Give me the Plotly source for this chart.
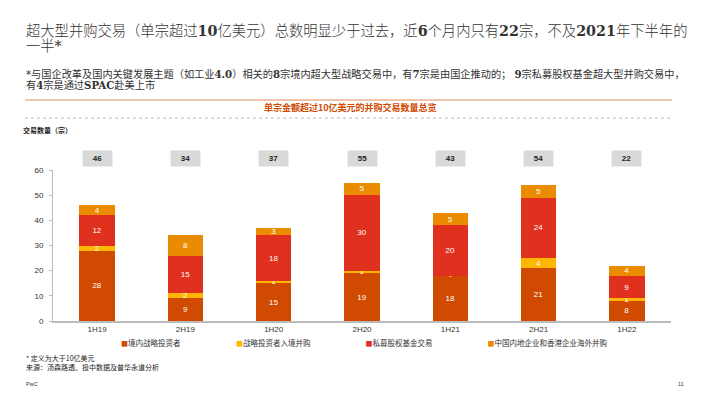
import plotly.graph_objects as go

categories = ["1H19", "2H19", "1H20", "2H20", "1H21", "2H21", "1H22"]
domestic_strategic = [28, 9, 15, 19, 18, 21, 8]
inbound_strategic = [2, 2, 1, 1, 0, 4, 1]
private_equity = [12, 15, 18, 30, 20, 24, 9]
outbound = [4, 8, 3, 5, 5, 5, 4]
totals = [46, 34, 37, 55, 43, 54, 22]
series_names = ["境内战略投资者", "战略投资者入境并购", "私募股权基金交易", "中国内地企业和香港企业海外并购"]
series_colors = ["#D04A02", "#FFB600", "#E0301E", "#EB8C00"]
y_ticks = [0, 10, 20, 30, 40, 50, 60]

# The page body has an 8px margin, so the figure is laid out in screen pixels minus 8.
OFF = 8
W, H = 710 - OFF, 399 - OFF
L, R, T, B = 53, 671, 170, 321  # plot area in screen pixels


def px(x):
    return (x - L) / (R - L)


def py(y):
    return (B - y) / (B - T)


CJK = "Noto Sans CJK SC, Noto Sans, sans-serif"
NUM = "Liberation Sans, Arial, sans-serif"
fig = go.Figure()

series = [domestic_strategic, inbound_strategic, private_equity, outbound]
for name, vals, col in zip(series_names, series, series_colors):
    fig.add_trace(go.Bar(
        x=categories, y=vals, name=name, marker=dict(color=col, line=dict(width=0)),
        text=[str(v) if v > 0 else "" for v in vals],
        textposition="inside", insidetextanchor="middle", constraintext="none", textangle=0,
        textfont=dict(color="#FFFFFF", size=8, family=NUM),
        width=0.4, showlegend=False, hoverinfo="skip",
    ))
    fig.add_trace(go.Scatter(
        x=[None], y=[None], mode="lines",
        name='<span style="color:%s;font-size:7px">■</span>%s' % (col, name),
        line=dict(color="rgba(0,0,0,0)", width=0), showlegend=True, hoverinfo="skip",
    ))

# "-" marks for zero segments
for i, v in enumerate(inbound_strategic):
    if v == 0:
        fig.add_annotation(x=categories[i], y=domestic_strategic[i], text="-", showarrow=False,
                           font=dict(color="#FFFFFF", size=8, family=NUM), xref="x", yref="y")

# total boxes
for c, t in zip(categories, totals):
    fig.add_annotation(x=c, xref="x", y=py(150), yref="paper", text="<b>%d</b>" % t,
                       showarrow=False, bgcolor="#D9D9D9", width=27, height=13,
                       font=dict(size=8, color="#222222", family=NUM))

title_font = "DejaVu Serif, Noto Sans CJK SC, serif"
fig.add_annotation(xref="paper", yref="paper", x=px(24), y=py(31), xanchor="left", yanchor="middle",
                   text="超大型并购交易（单宗超过<b>10</b>亿美元）总数明显少于过去，近<b>6</b>个月内只有<b>22</b>宗，不及<b>2021</b>年下半年的",
                   showarrow=False, font=dict(size=14.3, color="#333333", family=title_font, weight=300))
fig.add_annotation(xref="paper", yref="paper", x=px(24), y=py(46), xanchor="left", yanchor="middle",
                   text="一半*", showarrow=False, font=dict(size=14.3, color="#333333", family=title_font, weight=300))
fig.add_annotation(xref="paper", yref="paper", x=px(24), y=py(74), xanchor="left", yanchor="middle",
                   text="*与国企改革及国内关键发展主题（如工业<b>4.0</b>）相关的<b>8</b>宗境内超大型战略交易中，有<b>7</b>宗是由国企推动的； <b>9</b>宗私募股权基金超大型并购交易中，",
                   showarrow=False, font=dict(size=10.2, color="#333333", family=title_font))
fig.add_annotation(xref="paper", yref="paper", x=px(24), y=py(85), xanchor="left", yanchor="middle",
                   text="有<b>4</b>宗是通过<b>SPAC</b>赴美上市",
                   showarrow=False, font=dict(size=10.2, color="#333333", family=title_font))

# header lines
fig.add_shape(type="line", xref="paper", yref="paper", x0=px(25), x1=px(672), y0=py(100), y1=py(100),
              line=dict(color="#DC8A5A", width=1))
fig.add_shape(type="line", xref="paper", yref="paper", x0=px(25), x1=px(672), y0=py(118), y1=py(118),
              line=dict(color="#BBBBBB", width=1, dash="dot"))
fig.add_annotation(xref="paper", yref="paper", x=px(350), y=py(108), xanchor="center", yanchor="middle",
                   text="<b>单宗金额超过10亿美元的并购交易数量总览</b>", showarrow=False,
                   font=dict(size=9, color="#D04A02", family=CJK))
fig.add_annotation(xref="paper", yref="paper", x=px(21), y=py(130), xanchor="left", yanchor="middle",
                   text="<b>交易数量（宗）</b>", showarrow=False, font=dict(size=7, color="#222222", family=CJK))

# footnotes
fig.add_annotation(xref="paper", yref="paper", x=px(24), y=py(358), xanchor="left", yanchor="middle",
                   text="* 定义为大于10亿美元", showarrow=False, font=dict(size=7, color="#222222", family=CJK))
fig.add_annotation(xref="paper", yref="paper", x=px(24), y=py(367), xanchor="left", yanchor="middle",
                   text="来源：汤森路透、投中数据及普华永道分析", showarrow=False, font=dict(size=7, color="#222222", family=CJK))
fig.add_annotation(xref="paper", yref="paper", x=px(24), y=py(384), xanchor="left", yanchor="middle",
                   text="PwC", showarrow=False, font=dict(size=5.5, color="#333333", family=NUM))
fig.add_annotation(xref="paper", yref="paper", x=px(686), y=py(384), xanchor="right", yanchor="middle",
                   text="11", showarrow=False, font=dict(size=5.5, color="#333333", family=NUM))

fig.update_layout(
    width=W, height=H, barmode="stack", bargap=0.6,
    margin=dict(l=L - OFF, r=710 - R, t=T - OFF, b=399 - B, pad=0),
    paper_bgcolor="white", plot_bgcolor="white",
    font=dict(family=CJK, size=8, color="#333333"),
    legend=dict(orientation="h", traceorder="normal", x=px(71), xanchor="left", y=py(343), yanchor="middle",
                itemwidth=40, font=dict(size=7.5, color="#333333"),
                bgcolor="rgba(0,0,0,0)"),
    xaxis=dict(type="category", categoryorder="array", categoryarray=categories, range=[-0.5, 6.5],
               showline=True, linecolor="#BBBBBB", linewidth=1.5, ticks="", showgrid=False,
               tickfont=dict(size=8, color="#333333", family=NUM), fixedrange=True),
    yaxis=dict(range=[0, 60], tickvals=y_ticks, showline=True, linecolor="#BBBBBB", linewidth=1,
               ticks="outside", ticklen=3, tickcolor="#BBBBBB", showgrid=False, zeroline=False,
               tickfont=dict(size=8, color="#333333", family=NUM), ticklabelstandoff=4),
    showlegend=True,
)

fig.write_html("out.html")
